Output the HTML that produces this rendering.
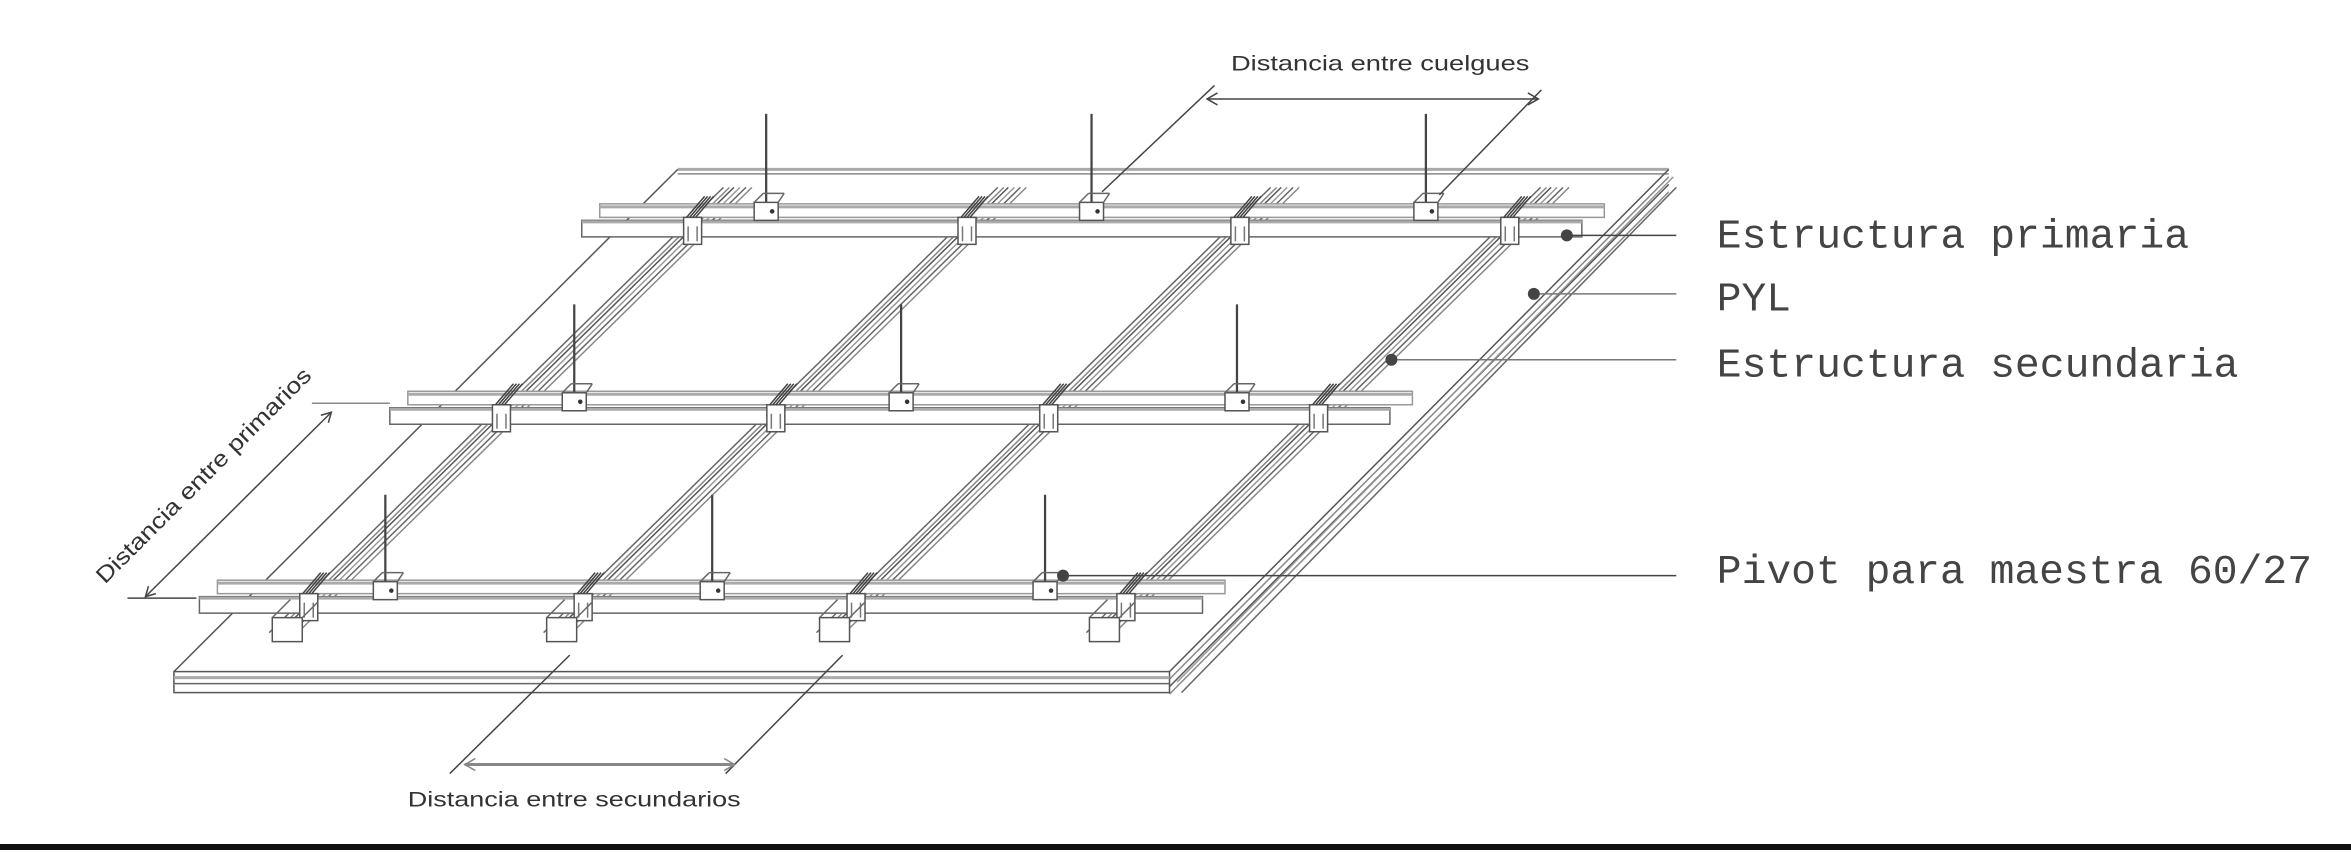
<!DOCTYPE html>
<html><head><meta charset="utf-8"><style>
html,body{margin:0;padding:0;background:#fff;width:2351px;height:853px;overflow:hidden}
svg{display:block}
.s{font-family:"Liberation Sans",sans-serif;fill:#333;font-size:14px}
.m{font-family:"Liberation Mono",monospace;fill:#444;font-size:27.5px}
</style></head><body>
<svg id="d" width="2351" height="853" viewBox="0 0 1568 569" preserveAspectRatio="none" xmlns="http://www.w3.org/2000/svg">
<g id="g" fill="none" stroke-linecap="butt"></g>
<text class="s" x="821" y="47" textLength="199" lengthAdjust="spacingAndGlyphs">Distancia entre cuelgues</text>
<text class="s" x="272" y="538" textLength="222" lengthAdjust="spacingAndGlyphs">Distancia entre secundarios</text>
<text class="s" style="font-size:15px" transform="translate(70,390) rotate(-45)" x="0" y="0" textLength="196" lengthAdjust="spacingAndGlyphs">Distancia entre primarios</text>
<text class="m" x="1145" y="165" textLength="315" lengthAdjust="spacingAndGlyphs">Estructura primaria</text>
<text class="m" x="1145" y="207">PYL</text>
<text class="m" x="1145" y="251" textLength="348" lengthAdjust="spacingAndGlyphs">Estructura secundaria</text>
<text class="m" x="1145" y="389" textLength="397" lengthAdjust="spacingAndGlyphs">Pivot para maestra 60/27</text>
<rect x="0" y="563" width="1568" height="4" fill="#111"/>
</svg>
<script>
const g=document.getElementById('g');let h='';
function L(x1,y1,x2,y2,c='#777',w=1){h+=`<line x1="${x1}" y1="${y1}" x2="${x2}" y2="${y2}" stroke="${c}" stroke-width="${w}"/>`;}
function R(x,y,w,hh,c='#666',f='#fff',sw=1){h+=`<rect x="${x}" y="${y}" width="${w}" height="${hh}" fill="${f}" stroke="${c}" stroke-width="${sw}"/>`;}
function C(x,y){h+=`<circle cx="${x}" cy="${y}" r="4" fill="#444"/>`;}
// board
L(452,113,1113,113,'#aaa',2);L(452,116,1113,116,'#888');
L(452,113,116,448,'#555');
for(let i=0;i<4;i++){L(1113,113+i*5,780,448+i*5,i%2?'#888':'#555');}
L(1116,118,785,455,'#999');L(1118,125,788,462,'#666');
R(116,448,664,14,'#555','#fff');L(116,452,780,452,'#aaa',2);L(116,456,780,456,'#666');
// secondaries
const sx=[465,648,830,1010];
const k=1.02;
function X(x0,y){return x0-(y-150)*k;}
sx.forEach(x0=>{
 const ya=125,yb=422;
 [[-8,'#666'],[-4,'#888'],[-1,'#555'],[3,'#999'],[7,'#666'],[11,'#888']].forEach(([o,c])=>{L(X(x0+o,ya),ya,X(x0+o,yb),yb,c);});
});
// primaries
function prim(x1,x2,y){
 R(x1+12,y-17,x2-x1-12,9,'#999','#fff');L(x1+12,y-15,x2,y-15,'#aaa',2);
 R(x1,y-6,x2-x1-15,11,'#666','#fff');L(x1,y-5,x2-15,y-5,'#aaa',2);
}
prim(388,1070,153);prim(260,942,278);prim(133,817,404);
// clips
[[153,sx],[278,sx],[404,sx]].forEach(([y,xs])=>{xs.forEach(x0=>{const x=X(x0,y);
 R(x-6,y-8,12,18,'#555','#fff');L(x-3,y-2,x-3,y+8,'#777');L(x+3,y-2,x+3,y+8,'#777');
 for(let i=0;i<4;i++)L(x-4+i*2,y-8,x+8+i*2,y-22,'#444');});});
// feet
sx.forEach(x0=>{const x=X(x0,420);R(x-8,412,20,16,'#555','#fff');L(x-8,412,x+4,400,'#666');L(x+12,412,x+22,402,'#666');});
// hangers
[[511,76,135],[728,76,135],[951,76,135],[383,203,262],[601,203,262],[825,203,262],[257,330,388],[475,330,388],[697,330,388]].forEach(([x,a,b])=>{
 L(x,a,x,b+10,'#444',1.5);R(x-8,b,16,12,'#555','#fff');L(x-8,b,x-2,b-6,'#666');L(x+8,b,x+12,b-6,'#666');L(x-2,b-6,x+12,b-6,'#666');
 h+=`<circle cx="${x+4}" cy="${b+6}" r="1.5" fill="#333"/>`;});
// label leaders
L(1045,157,1118,157,'#444');C(1045,157);
L(1023,196,1118,196,'#777');C(1023,196);
L(928,240,1118,240,'#777');C(928,240);
L(709,384,1118,384,'#444');C(709,384);
// dims
L(810,57,735,128,'#444');L(1028,60,960,130,'#444');
L(806,66,1025,66,'#444');
h+='<path d="M812,62 L805,66 L812,70 M1019,62 L1026,66 L1019,70" stroke="#444"/>';
L(380,437,300,516,'#444');L(562,437,484,516,'#444');
L(310,510,490,510,'#888',2);
h+='<path d="M317,506 L310,510 L317,514 M483,506 L490,510 L483,514" stroke="#888"/>';
L(208,269,260,269,'#888');L(85,399,131,399,'#444');
L(221,275,97,398,'#444');
h+='<path d="M214,277 L221,275 L219,282 M99,391 L97,398 L104,396" stroke="#444"/>';
g.innerHTML=h;
</script>
</body></html>
